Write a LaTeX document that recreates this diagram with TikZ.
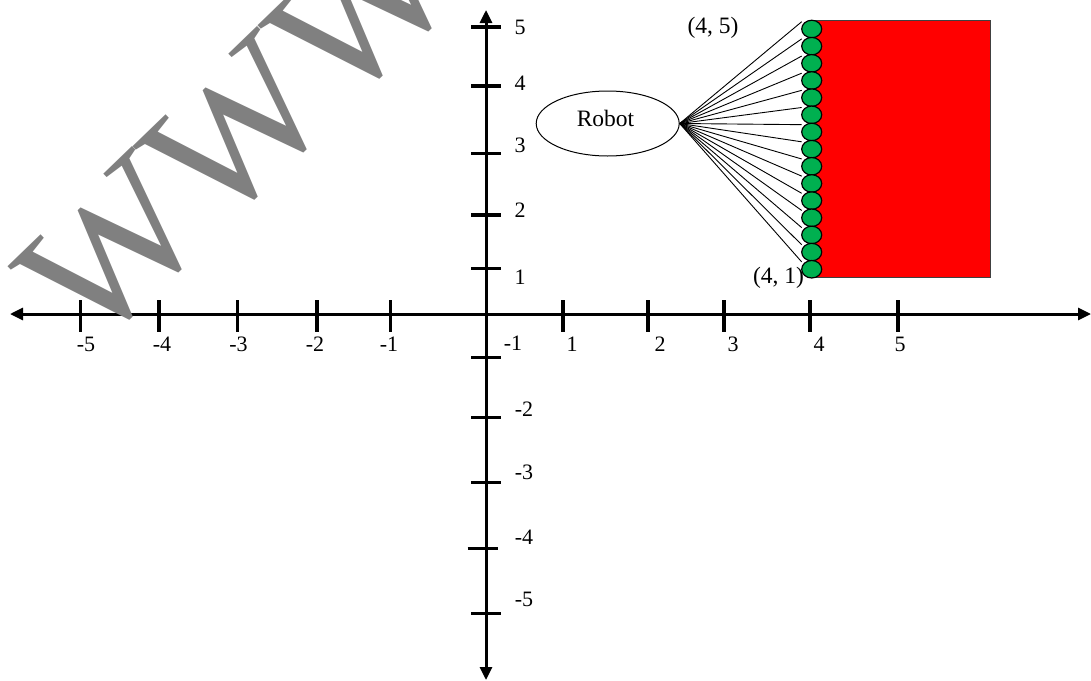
\documentclass[tikz,border=0pt]{standalone}
\usepackage{fontspec}
\setmainfont{Liberation Serif}
\usetikzlibrary{arrows.meta,shapes.geometric,calc}
\definecolor{wmgray}{RGB}{128,128,128}
\definecolor{dotgreen}{RGB}{0,176,80}
\begin{document}
\begin{tikzpicture}[x=1pt,y=-1pt,
  axis/.style={line width=3pt,{Triangle[length=13pt,width=12pt]}-{Triangle[length=13pt,width=12pt]}},
  tickmark/.style={line width=3.3pt},
  lbl/.style={font=\fontsize{22}{22}\selectfont, anchor=base, inner sep=0pt},
  clbl/.style={font=\fontsize{23.5}{23.5}\selectfont, anchor=base, inner sep=0pt},
  dot/.style={ellipse, draw=black, line width=1.2pt, fill=dotgreen, minimum width=20pt, minimum height=17.5pt, inner sep=0pt},
  ray/.style={line width=0.9pt},
  wall/.style={draw=black!75, fill=red, line width=0.8pt},
  robotshape/.style={ellipse, draw=black, line width=1pt, minimum width=143pt, minimum height=65pt, inner sep=0pt},
  watermark/.style={rotate=44, anchor=base west, inner sep=0pt, text=wmgray, font=\fontsize{184}{184}\selectfont}
]
\useasboundingbox (0,0) rectangle (1091,680);
% axes
\coordinate (xl) at (10,314);
\coordinate (xr) at (1091,314);
\coordinate (yt) at (486,10);
\coordinate (yb) at (486,680);
\draw[axis] (xl) -- (xr);
\draw[axis] (yt) -- (yb);
% x ticks
\foreach \x in {80.7,159,237.5,317,390.5,563,648,724,810,898}
  \draw[tickmark] (\x,300) -- (\x,332);
% y ticks
\foreach \y in {27,86,153.3,215,268.3,357.3,417.7,482.7,613.3}
  \draw[tickmark] (471,\y) -- (501,\y);
\draw[tickmark] (467.7,548.3) -- (497.7,548.3);
% x labels
\node[lbl] (xm5) at (86,351) {-5};
\node[lbl] (xm4) at (162,351) {-4};
\node[lbl] (xm3) at (238.5,351) {-3};
\node[lbl] (xm2) at (315,351) {-2};
\node[lbl] (xm1) at (389,351) {-1};
\node[lbl] (xp1) at (572,351) {1};
\node[lbl] (xp2) at (660,351) {2};
\node[lbl] (xp3) at (733,351) {3};
\node[lbl] (xp4) at (819,351) {4};
\node[lbl] (xp5) at (900,351) {5};
% y labels
\node[lbl] (yp5) at (520,34) {5};
\node[lbl] (yp4) at (520,90) {4};
\node[lbl] (yp3) at (520,152) {3};
\node[lbl] (yp2) at (520,217) {2};
\node[lbl] (yp1) at (520,284) {1};
\node[lbl] (ym1) at (513,350) {-1};
\node[lbl] (ym2) at (524,416) {-2};
\node[lbl] (ym3) at (524,479) {-3};
\node[lbl] (ym4) at (524,544) {-4};
\node[lbl] (ym5) at (524,606) {-5};
% wall
\draw[wall] (811.7,20) rectangle (990.7,277.3);
% robot
\node[robotshape] (robot) at (607.7,123.5) {};
\node[clbl] (robottext) at (605.5,126.7) {Robot};
% rays and sensor dots
\foreach \i in {0,...,14} {
  \pgfmathsetmacro\cy{29+\i*17.16}
  \coordinate (t\i) at (801.7,\cy-7.3);
  \draw[ray] (robot.east) -- (t\i);
}
\foreach \i in {0,...,14} {
  \pgfmathsetmacro\cy{29+\i*17.16}
  \node[dot] (c\i) at (811.7,\cy) {};
}
\node[clbl] (p45) at (713,33.3) {(4, 5)};
\node[clbl] (p41) at (778.5,283.3) {(4, 1)};
% watermark
\begin{scope}
\clip (0,0) rectangle (1091,680);
\node[watermark] (wm) at (91,354) {WWWW};
\end{scope}
\end{tikzpicture}
\end{document}
